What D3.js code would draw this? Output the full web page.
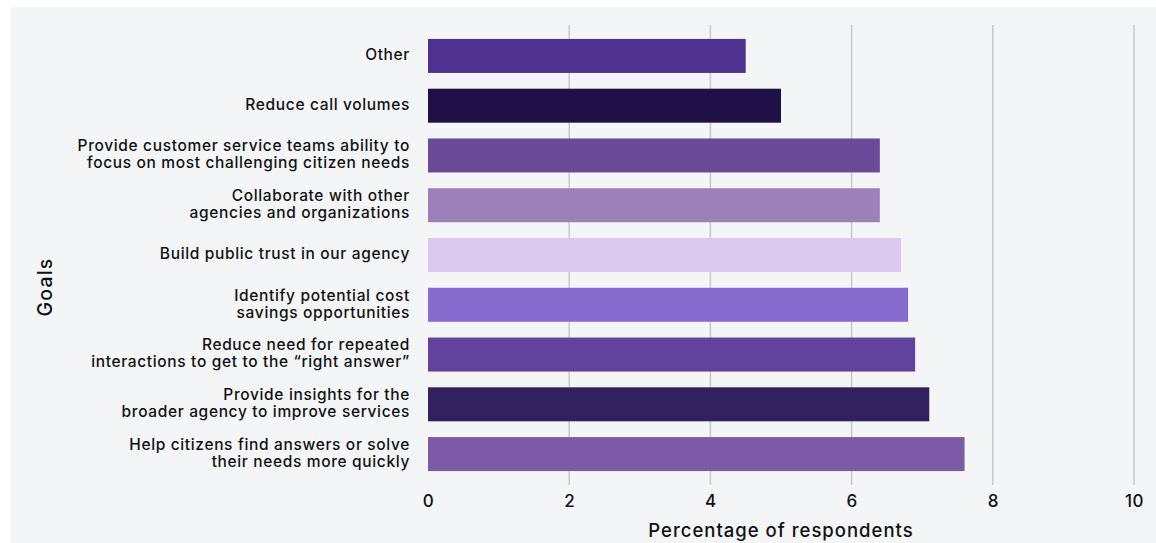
<!DOCTYPE html>
<html>
<head>
<meta charset="utf-8">
<script src="https://cdn.jsdelivr.net/npm/d3@7"></script>
<style>
  html, body { margin: 0; padding: 0; background: #ffffff; }
  svg { display: block; }
  text { font-family: "Inter", "Noto Sans", sans-serif; fill: #111111; }
</style>
</head>
<body>
<svg id="chart" width="1156" height="543"></svg>
<script>
// Survey goals, top to bottom, with line breaks for wrapped labels
const goals = [
  ["Other"],
  ["Reduce call volumes"],
  ["Provide customer service teams ability to", "focus on most challenging citizen needs"],
  ["Collaborate with other", "agencies and organizations"],
  ["Build public trust in our agency"],
  ["Identify potential cost", "savings opportunities"],
  ["Reduce need for repeated", "interactions to get to the \u201cright answer\u201d"],
  ["Provide insights for the", "broader agency to improve services"],
  ["Help citizens find answers or solve", "their needs more quickly"]
];
const percentages = [4.5, 5.0, 6.4, 6.4, 6.7, 6.8, 6.9, 7.1, 7.6];
const barColors = ["#4f318f", "#1f1048", "#6b4a9a", "#9d80b9", "#dbc8ef", "#876bcf", "#61439b", "#31215f", "#7d5aa8"];
const xTicks = [0, 2, 4, 6, 8, 10];

const svg = d3.select("#chart");

// panel background
svg.append("rect")
  .attr("x", 11).attr("y", 7)
  .attr("width", 1145).attr("height", 536)
  .attr("fill", "#f4f5f7");

const plot = { left: 428, right: 1134, top: 25, bottom: 485 };

const x = d3.scaleLinear().domain([0, 10]).range([plot.left, plot.right]);
const y = d3.scaleBand()
  .domain(d3.range(goals.length))
  .range([plot.top, plot.bottom])
  .paddingInner(0.317)
  .paddingOuter(0.28);

// vertical gridlines
svg.append("g").selectAll("line")
  .data(xTicks.filter(t => t > 0))
  .join("line")
  .attr("x1", d => x(d)).attr("x2", d => x(d))
  .attr("y1", plot.top).attr("y2", plot.bottom)
  .attr("stroke", "#c9c9cc")
  .attr("stroke-width", 1.5);

// bars
svg.append("g").selectAll("rect")
  .data(percentages)
  .join("rect")
  .attr("x", x(0))
  .attr("y", (d, i) => y(i))
  .attr("width", d => x(d) - x(0))
  .attr("height", y.bandwidth())
  .attr("fill", (d, i) => barColors[i]);

// category labels
const labelG = svg.append("g");
goals.forEach((lines, i) => {
  const cy = y(i) + y.bandwidth() / 2 - 1;
  const lh = 17;
  const t = labelG.append("text")
    .attr("x", 410)
    .attr("text-anchor", "end")
    .attr("font-size", 15.5)
    .attr("font-weight", 500)
    .attr("letter-spacing", 0.65);
  lines.forEach((ln, j) => {
    t.append("tspan")
      .attr("x", 410)
      .attr("y", cy + (j - (lines.length - 1) / 2) * lh)
      .attr("dy", "0.35em")
      .text(ln);
  });
});

// x axis tick labels
const xAxis = d3.axisBottom(x).tickValues(xTicks).tickSize(0).tickPadding(0);
const axG = svg.append("g")
  .attr("transform", `translate(0,${plot.bottom + 10})`)
  .call(xAxis);
axG.select(".domain").remove();
axG.selectAll("text")
  .attr("font-size", 17)
  .attr("font-weight", 500)
  .attr("letter-spacing", 0.5)
  .attr("fill", "#111111")
  .attr("style", "font-family: 'Inter', sans-serif;");

// axis titles
svg.append("text")
  .attr("x", (plot.left + plot.right) / 2)
  .attr("y", 537)
  .attr("text-anchor", "middle")
  .attr("font-size", 18.5)
  .attr("font-weight", 500)
  .attr("letter-spacing", 1.0)
  .text("Percentage of respondents");

svg.append("text")
  .attr("transform", "translate(52,287) rotate(-90)")
  .attr("text-anchor", "middle")
  .attr("font-size", 19.5)
  .attr("font-weight", 500)
  .attr("letter-spacing", 1.2)
  .text("Goals");
</script>
</body>
</html>
